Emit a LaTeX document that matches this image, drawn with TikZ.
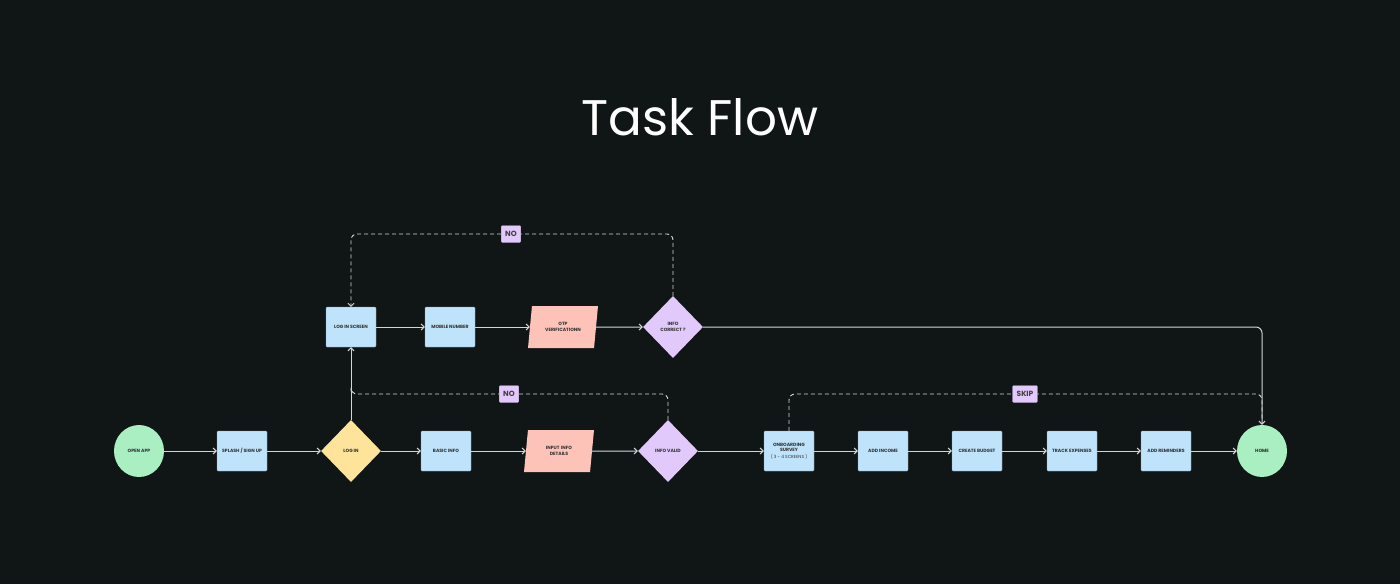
\documentclass[tikz,border=0pt]{standalone}
\usepackage{fontspec}
\setmainfont{Poppins}
\usetikzlibrary{shapes.geometric,arrows.meta}
\definecolor{bg}{HTML}{101516}
\definecolor{cblue}{HTML}{BFE3FB}
\definecolor{cgreen}{HTML}{A9EFC2}
\definecolor{cyel}{HTML}{FDE49A}
\definecolor{cpink}{HTML}{FDC3B9}
\definecolor{cpur}{HTML}{E2C9FB}
\definecolor{ln}{HTML}{D4D6D6}
\begin{document}
\begin{tikzpicture}[x=1pt,y=-1pt,
  txt/.style={font=\fontsize{4.6}{5.6}\selectfont\bfseries, text=black!80, align=center, inner sep=0pt},
  box/.style={txt, draw=cblue!70!black, line width=0.4pt, fill=cblue, minimum width=50pt, minimum height=40pt, rounded corners=1pt},
  circ/.style={txt, ellipse, fill=cgreen, minimum width=50pt, minimum height=52pt},
  dia/.style={txt, diamond, minimum width=60pt, minimum height=62pt},
  para/.style={txt, trapezium, trapezium left angle=66, trapezium right angle=114, fill=cpink, minimum width=70pt, minimum height=42pt, trapezium stretches body, text width=40pt},
  tag/.style={font=\fontsize{7.5}{8}\selectfont\bfseries, text=black!75, fill=cpur, draw=cpur!70!black, line width=0.3pt, minimum width=19pt, minimum height=17pt, inner xsep=4pt, rounded corners=1pt},
  con/.style={draw=ln, line width=1pt, -{Straight Barb[length=3pt,width=6pt]}, rounded corners=6pt},
  dsh/.style={draw=ln, line width=0.9pt, dash pattern=on 4pt off 3pt, rounded corners=6pt}]
\fill[bg] (0,0) rectangle (1400,584);
\useasboundingbox (0,0) rectangle (1400,584);
\node[font=\fontsize{50}{56}\selectfont, text=white] (title) at (700,117) {Task Flow};
% bottom row
\node[circ] (open) at (139,451) {OPEN APP};
\node[box] (splash) at (242,451) {SPLASH / SIGN UP};
\node[dia, fill=cyel] (login) at (351,451) {LOG IN};
\node[box] (basic) at (446,451) {BASIC INFO};
\node[para] (input) at (559,451) {INPUT INFO\\DETAILS};
\node[dia, fill=cpur] (valid) at (668,451) {INFO VALID};
\node[box] (onb) at (789,451) {ONBOARDING\\SURVEY\\[1pt]{\fontsize{4.4}{5}\selectfont\mdseries ( 3 - 4 SCREENS )}};
\node[box] (income) at (883,451) {ADD INCOME};
\node[box] (budget) at (977,451) {CREATE BUDGET};
\node[box] (track) at (1072,451) {TRACK EXPENSES};
\node[box] (remind) at (1166,451) {ADD REMINDERS};
\node[circ] (home) at (1262,451) {HOME};
% top row
\node[box] (lscreen) at (351,327) {LOG IN SCREEN};
\node[box] (mobile) at (450,327) {MOBILE NUMBER};
\node[para] (otp) at (563,327) {OTP\\VERIFICATIONN};
\node[dia, fill=cpur] (correct) at (673,327) {INFO\\CORRECT ?};
% connectors
\draw[con] (open) -- (splash);
\draw[con] (splash) -- (login);
\draw[con] (login) -- (basic);
\draw[con] (basic) -- (input);
\draw[con] (input) -- (valid);
\draw[con] (valid) -- (onb);
\draw[con] (onb) -- (income);
\draw[con] (income) -- (budget);
\draw[con] (budget) -- (track);
\draw[con] (track) -- (remind);
\draw[con] (remind) -- (home);
\draw[con] (login) -- (lscreen);
\draw[con] (lscreen) -- (mobile);
\draw[con] (mobile) -- (otp);
\draw[con] (otp) -- (correct);
\draw[con] (correct.east) -| (home.north);
% dashed loops
\coordinate (j1) at (351,394);
\coordinate (j2) at (1262,420);
\draw[dsh, -{Straight Barb[length=3pt,width=6pt]}] (correct.north) |- (511,234) -| (lscreen.north);
\node[tag] (no1) at (511,234) {NO};
\draw[dsh] (valid.north) |- (509,394) -| (j1);
\node[tag] (no2) at (509,394) {NO};
\draw[dsh] (onb.north) |- (1025,394) -| (j2);
\node[tag] (skip) at (1025,394) {SKIP};
\end{tikzpicture}
\end{document}
